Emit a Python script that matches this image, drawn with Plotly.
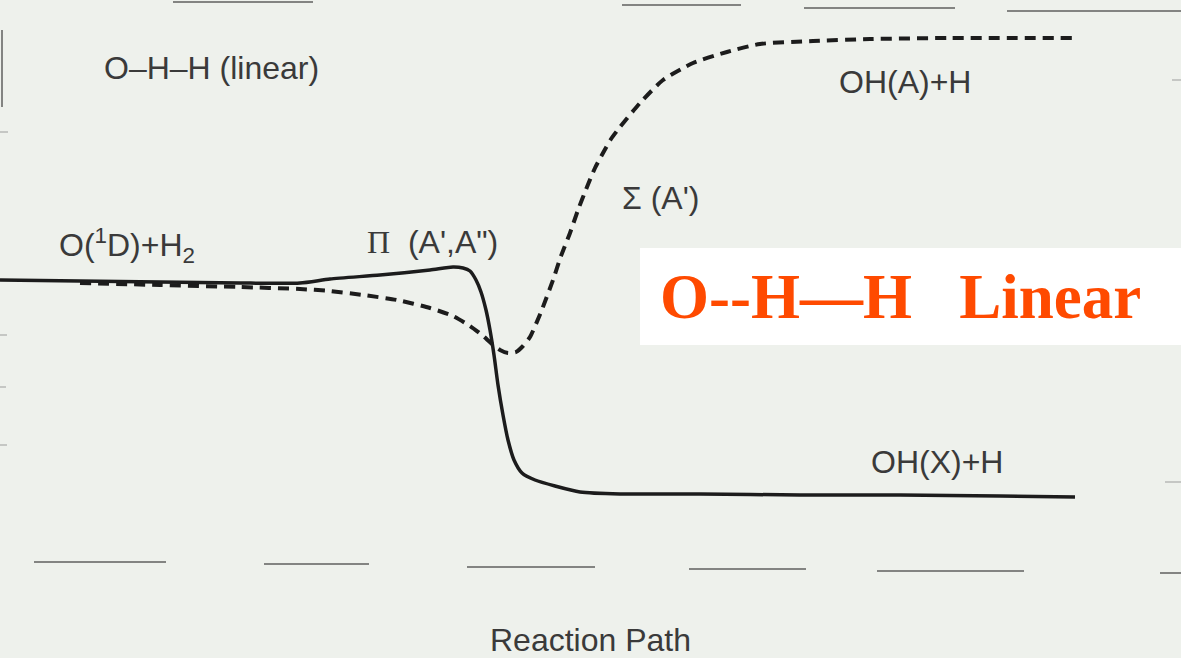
import plotly.graph_objects as go

# Potential energy curves along the O + H2 reaction path (collinear O-H-H).
# Path coordinate runs 0..1181, energy in arbitrary units (0..658).

# Pi state (A', A'') - solid curve
pi_path = [0, 80, 160, 240, 300, 330, 380, 430, 453, 463, 470, 476, 481, 486,
           490, 494, 498, 503, 508, 514, 522, 535, 555, 580, 620, 700, 800,
           900, 1000, 1075]
pi_energy = [378, 377, 376, 375, 375, 379, 383, 388, 391, 390, 387, 378, 366,
             348, 328, 303, 273, 243, 218, 198, 185, 178, 172, 166, 164, 164,
             163, 163, 162, 161]

# Sigma state (A') - dashed curve
sigma_path = [80, 160, 240, 300, 330, 363, 397, 430, 453, 470, 482, 492, 500,
              508, 516, 523, 530, 541, 553, 561, 570, 578, 587, 595, 603, 611,
              620, 640, 663, 693, 727, 760, 813, 870, 950, 1075]
sigma_energy = [375, 373, 371, 369, 367, 363, 358, 350, 342, 332, 323, 314,
                308, 305, 306, 312, 321, 346, 378, 402, 425, 448, 471, 490,
                505, 519, 531, 555, 578, 595, 606, 614, 617, 619, 620, 620]

# Text labels: (text, path, energy, anchor)
SERIF_SPAN = '<span style="font-family:Liberation Serif">{}</span>'
labels = [
    ("O\u2013H\u2013H (linear)", 102, 590, "left"),
    ("O(<sup>1</sup>D)+H<sub>2</sub>", 57, 413, "left"),
    (SERIF_SPAN.format("\u03a0") + "  (A',A\")", 365, 416, "left"),
    ("\u03a3 (A')", 620, 460, "left"),
    ("OH(A)+H", 837, 576, "left"),
    ("OH(X)+H", 869, 196, "left"),
]
axis_title = "Reaction Path"
banner_text = "O--H\u2014H   Linear"

# Faint ruling marks along the page edges: (x0, x1, y)
top_marks = [(173, 313, 656), (622, 741, 653), (804, 955, 650), (1007, 1181, 647)]
bottom_marks = [(34, 166, 96), (264, 369, 94), (467, 595, 91), (689, 806, 89),
                (877, 1024, 87), (1160, 1181, 85)]
edge_ticks = [(0, 8, 526), (0, 7, 323), (0, 6, 271), (0, 7, 213),
              (1172, 1181, 578), (1165, 1181, 176)]

BG = "#eef1ec"
INK = "#1c1c1c"
TEXT = "#3a3a3a"

fig = go.Figure()

for x0, x1, y in top_marks + bottom_marks:
    fig.add_trace(go.Scatter(x=[x0, x1], y=[y, y], mode="lines",
                             line=dict(color="rgba(60,60,60,0.6)", width=2),
                             hoverinfo="skip", showlegend=False))
for x0, x1, y in edge_ticks:
    fig.add_trace(go.Scatter(x=[x0, x1], y=[y, y], mode="lines",
                             line=dict(color="rgba(80,80,80,0.35)", width=1.5),
                             hoverinfo="skip", showlegend=False))
# left border fragment
fig.add_trace(go.Scatter(x=[2, 2], y=[551, 628], mode="lines",
                         line=dict(color="rgba(60,60,60,0.6)", width=2),
                         hoverinfo="skip", showlegend=False))

fig.add_trace(go.Scatter(x=sigma_path, y=sigma_energy, mode="lines",
                         line=dict(color=INK, width=4, dash="11px,7px",
                                   shape="spline", smoothing=0.6),
                         showlegend=False))
fig.add_trace(go.Scatter(x=pi_path, y=pi_energy, mode="lines",
                         line=dict(color=INK, width=3.5, shape="spline",
                                   smoothing=0.6),
                         showlegend=False))

for text, x, y, anchor in labels:
    fig.add_annotation(x=x, y=y, text=text, showarrow=False, xanchor=anchor,
                       yanchor="middle",
                       font=dict(family="Liberation Sans", size=32, color=TEXT))

fig.add_annotation(x=590, y=18, text=axis_title, showarrow=False,
                   xanchor="center", yanchor="middle",
                   font=dict(family="Liberation Sans", size=32, color=TEXT))

# white banner with the orange title
fig.add_shape(type="rect", x0=640, x1=1181, y0=313, y1=410,
              fillcolor="white", line=dict(width=0), layer="above")
fig.add_annotation(x=658, y=361, text="<b>" + banner_text + "</b>",
                   showarrow=False, xanchor="left", yanchor="middle",
                   font=dict(family="Liberation Serif", size=63, color="#ff4a00"))

fig.update_layout(
    width=1181, height=658,
    margin=dict(l=0, r=0, t=0, b=0),
    paper_bgcolor=BG, plot_bgcolor=BG,
    xaxis=dict(range=[0, 1181], visible=False, fixedrange=True),
    yaxis=dict(range=[0, 658], visible=False, fixedrange=True),
)

fig.write_html("out.html")
